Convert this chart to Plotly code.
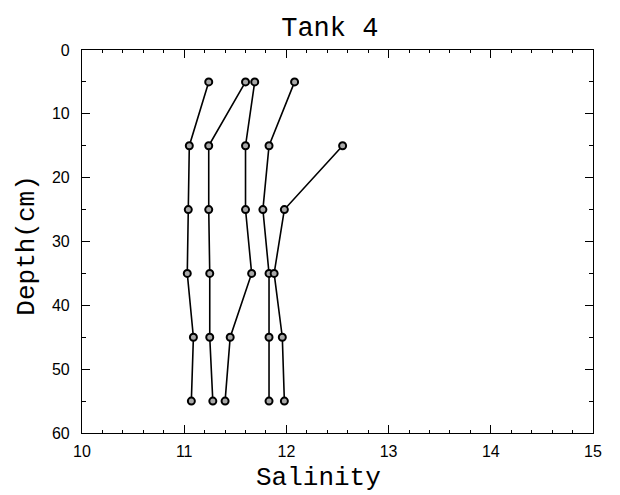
import plotly.graph_objects as go

# Depth levels (cm) sampled in each profile
depths = [5, 15, 25, 35, 45, 55]

# Salinity profiles for Tank 4
profile_a = [11.24, 11.05, 11.04, 11.03, 11.09, 11.07]
profile_b = [11.60, 11.24, 11.24, 11.25, 11.25, 11.28]
profile_c = [11.69, 11.60, 11.60, 11.66, 11.45, 11.40]
profile_d = [12.08, 11.83, 11.77, 11.83, 11.83, 11.83]
profile_e = [None, 12.55, 11.98, 11.88, 11.96, 11.98]

x_ticks = [10, 11, 12, 13, 14, 15]
y_ticks = [0, 10, 20, 30, 40, 50, 60]

profiles = [profile_a, profile_b, profile_c, profile_d, profile_e]

fig = go.Figure()
for sal in profiles:
    xs = [s for s in sal if s is not None]
    ys = [d for s, d in zip(sal, depths) if s is not None]
    fig.add_trace(go.Scatter(
        x=xs, y=ys, mode="lines+markers",
        line=dict(color="black", width=1.6),
        marker=dict(symbol="circle", size=7, color="#a8a8a8",
                    line=dict(color="black", width=2)),
        showlegend=False,
    ))

mono = "Liberation Mono, Courier New, monospace"
sans = "Liberation Sans, Arial, sans-serif"

axis_common = dict(
    showline=True, linecolor="black", linewidth=1.2, mirror="allticks",
    ticks="inside", ticklen=8, tickwidth=1.2, tickcolor="black",
    showgrid=False, zeroline=False,
    tickfont=dict(family=sans, size=16, color="black"),
)

fig.update_layout(
    width=620, height=495,
    margin=dict(l=82, r=27, t=50, b=62),
    paper_bgcolor="white", plot_bgcolor="white",
    title=dict(text="Tank 4", x=0.532, xanchor="center", y=0.947, yanchor="middle",
               font=dict(family=mono, size=27, color="black")),
    xaxis=dict(
        range=[10, 15], tickvals=x_ticks, ticklabelstandoff=4,
        minor=dict(dtick=0.2, ticks="inside", ticklen=3, tickcolor="black"),
        **axis_common,
    ),
    yaxis=dict(
        range=[60, 0], tickvals=y_ticks, ticklabelstandoff=8,
        minor=dict(dtick=5, ticks="inside", ticklen=4, tickcolor="black"),
        **axis_common,
    ),
    annotations=[
        dict(text="Salinity", xref="paper", yref="paper", x=0.462, y=-0.118,
             xanchor="center", yanchor="middle", showarrow=False,
             font=dict(family=mono, size=26, color="black")),
        dict(text="Depth(cm)", xref="paper", yref="paper", x=-0.107, y=0.49,
             xanchor="center", yanchor="middle", textangle=-90, showarrow=False,
             font=dict(family=mono, size=26, color="black")),
    ],
)

fig.write_html("out.html")
